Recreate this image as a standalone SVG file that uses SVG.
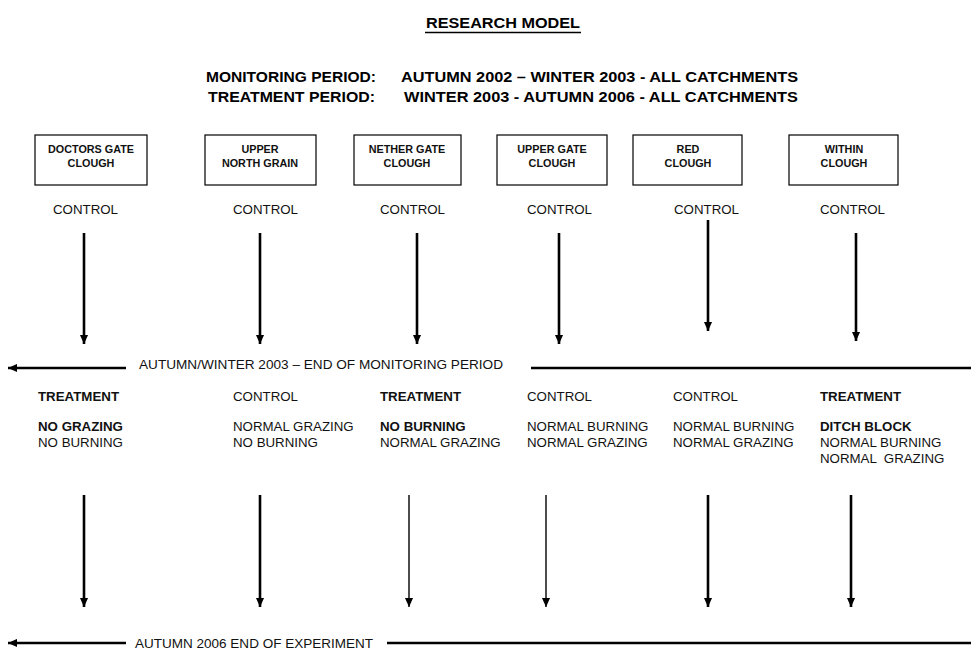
<svg xmlns="http://www.w3.org/2000/svg" width="971" height="650" viewBox="0 0 971 650">
<style>
  text { font-family: "Liberation Sans", Arial, sans-serif; fill: #000; }
  .title { font-size: 15px; font-weight: bold; }
  .hdr { font-size: 15px; font-weight: bold; }
  .box { fill: #fff; stroke: #000; stroke-width: 1.2; }
  .bl { font-size: 10.8px; font-weight: bold; text-anchor: middle; fill: #111; }
  .lbl { font-size: 13.3px; fill: #111; }
  .b { font-weight: bold; }
  .thick { stroke: #000; stroke-width: 2.6; fill: none; }
  .thin { stroke: #000; stroke-width: 1.4; fill: none; }
</style>
<defs>
  <marker id="ah" viewBox="0 0 10 10" refX="10" refY="5" markerWidth="9" markerHeight="9" markerUnits="userSpaceOnUse" orient="auto">
    <path d="M0,0.5 L10,5 L0,9.5 z" fill="#000"/>
  </marker>
</defs>
<rect width="971" height="650" fill="#fff"/>

<g id="title">
  <text class="title" x="426" y="28" textLength="154" lengthAdjust="spacingAndGlyphs">RESEARCH MODEL</text>
  <line x1="425" y1="32.5" x2="581" y2="32.5" stroke="#000" stroke-width="1.6"/>
</g>

<g id="periods">
  <text class="hdr" x="206" y="82" textLength="170" lengthAdjust="spacingAndGlyphs">MONITORING PERIOD:</text>
  <text class="hdr" x="401" y="82" textLength="397" lengthAdjust="spacingAndGlyphs">AUTUMN 2002 – WINTER 2003 - ALL CATCHMENTS</text>
  <text class="hdr" x="208" y="102" textLength="167" lengthAdjust="spacingAndGlyphs">TREATMENT PERIOD:</text>
  <text class="hdr" x="404" y="102" textLength="394" lengthAdjust="spacingAndGlyphs">WINTER 2003 - AUTUMN 2006 - ALL CATCHMENTS</text>
</g>

<g id="doctors-gate-clough">
  <rect class="box" x="35" y="135" width="112" height="50"/>
  <text class="bl" x="91" y="153">DOCTORS GATE</text>
  <text class="bl" x="91" y="167">CLOUGH</text>
</g>
<g id="upper-north-grain">
  <rect class="box" x="205" y="135" width="111" height="50"/>
  <text class="bl" x="260" y="153">UPPER</text>
  <text class="bl" x="260" y="167">NORTH GRAIN</text>
</g>
<g id="nether-gate-clough">
  <rect class="box" x="354" y="135" width="107" height="50"/>
  <text class="bl" x="407" y="153">NETHER GATE</text>
  <text class="bl" x="407" y="167">CLOUGH</text>
</g>
<g id="upper-gate-clough">
  <rect class="box" x="497" y="135" width="110" height="50"/>
  <text class="bl" x="552" y="153">UPPER GATE</text>
  <text class="bl" x="552" y="167">CLOUGH</text>
</g>
<g id="red-clough">
  <rect class="box" x="633" y="135" width="109" height="50"/>
  <text class="bl" x="688" y="153">RED</text>
  <text class="bl" x="688" y="167">CLOUGH</text>
</g>
<g id="within-clough">
  <rect class="box" x="789" y="135" width="109" height="50"/>
  <text class="bl" x="844" y="153">WITHIN</text>
  <text class="bl" x="844" y="167">CLOUGH</text>
</g>

<g id="initial-status">
  <text class="lbl" x="53" y="214">CONTROL</text>
  <text class="lbl" x="233" y="214">CONTROL</text>
  <text class="lbl" x="380" y="214">CONTROL</text>
  <text class="lbl" x="527" y="214">CONTROL</text>
  <text class="lbl" x="674" y="214">CONTROL</text>
  <text class="lbl" x="820" y="214">CONTROL</text>
</g>

<g id="end-monitoring-label">
  <text class="lbl" x="139" y="369" textLength="364" lengthAdjust="spacingAndGlyphs">AUTUMN/WINTER 2003 – END OF MONITORING PERIOD</text>
</g>

<g id="doctors-gate-treatment">
  <text class="lbl b" x="38" y="401">TREATMENT</text>
  <text class="lbl b" x="38" y="431">NO GRAZING</text>
  <text class="lbl" x="38" y="447">NO BURNING</text>
</g>
<g id="upper-north-grain-treatment">
  <text class="lbl" x="233" y="401">CONTROL</text>
  <text class="lbl" x="233" y="431">NORMAL GRAZING</text>
  <text class="lbl" x="233" y="447">NO BURNING</text>
</g>
<g id="nether-gate-treatment">
  <text class="lbl b" x="380" y="401">TREATMENT</text>
  <text class="lbl b" x="380" y="431">NO BURNING</text>
  <text class="lbl" x="380" y="447">NORMAL GRAZING</text>
</g>
<g id="upper-gate-treatment">
  <text class="lbl" x="527" y="401">CONTROL</text>
  <text class="lbl" x="527" y="431">NORMAL BURNING</text>
  <text class="lbl" x="527" y="447">NORMAL GRAZING</text>
</g>
<g id="red-clough-treatment">
  <text class="lbl" x="673" y="401">CONTROL</text>
  <text class="lbl" x="673" y="431">NORMAL BURNING</text>
  <text class="lbl" x="673" y="447">NORMAL GRAZING</text>
</g>
<g id="within-clough-treatment">
  <text class="lbl b" x="820" y="401">TREATMENT</text>
  <text class="lbl b" x="820" y="431">DITCH BLOCK</text>
  <text class="lbl" x="820" y="447">NORMAL BURNING</text>
  <text class="lbl" x="820" y="463" xml:space="preserve">NORMAL  GRAZING</text>
</g>

<g id="end-experiment-label">
  <text class="lbl" x="135" y="648" textLength="238" lengthAdjust="spacingAndGlyphs">AUTUMN 2006 END OF EXPERIMENT</text>
</g>

<g id="connectors">
  <line class="thick" x1="84" y1="233" x2="84" y2="344" marker-end="url(#ah)"/>
  <line class="thick" x1="260" y1="233" x2="260" y2="344" marker-end="url(#ah)"/>
  <line class="thick" x1="417" y1="233" x2="417" y2="344" marker-end="url(#ah)"/>
  <line class="thick" x1="559" y1="233" x2="559" y2="344" marker-end="url(#ah)"/>
  <line class="thick" x1="708" y1="220" x2="708" y2="331" marker-end="url(#ah)"/>
  <line class="thick" x1="856" y1="233" x2="856" y2="341" marker-end="url(#ah)"/>

  <line class="thick" x1="126" y1="368" x2="8" y2="368" marker-end="url(#ah)"/>
  <line class="thick" x1="531" y1="368" x2="971" y2="368"/>

  <line class="thick" x1="84" y1="495" x2="84" y2="607" marker-end="url(#ah)"/>
  <line class="thick" x1="260" y1="495" x2="260" y2="607" marker-end="url(#ah)"/>
  <line class="thin" x1="409" y1="495" x2="409" y2="607" marker-end="url(#ah)"/>
  <line class="thin" x1="546" y1="495" x2="546" y2="607" marker-end="url(#ah)"/>
  <line class="thick" x1="708" y1="495" x2="708" y2="607" marker-end="url(#ah)"/>
  <line class="thick" x1="851" y1="495" x2="851" y2="607" marker-end="url(#ah)"/>

  <line class="thick" x1="126" y1="643" x2="8" y2="643" marker-end="url(#ah)"/>
  <line class="thick" x1="387" y1="643" x2="971" y2="643"/>
</g>
</svg>
